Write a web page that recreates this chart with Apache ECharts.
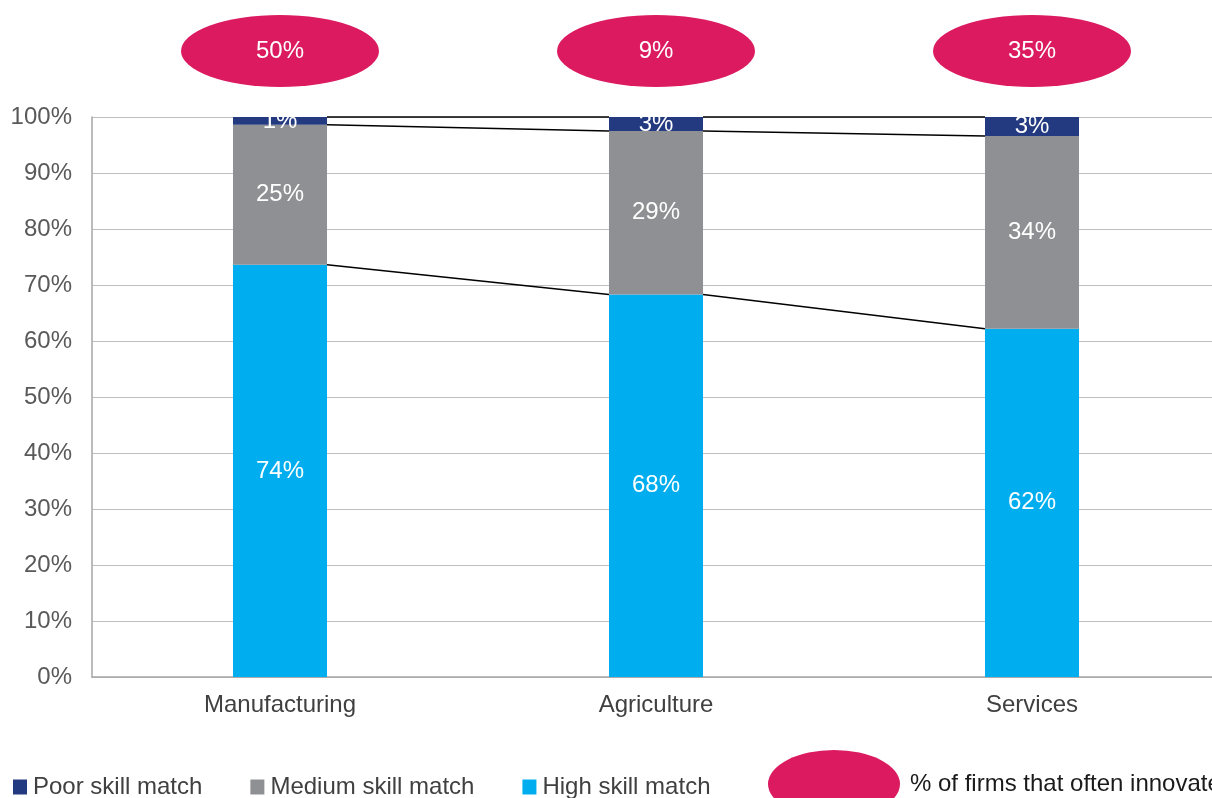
<!DOCTYPE html>
<html>
<head>
<meta charset="utf-8">
<script src="https://cdn.jsdelivr.net/npm/echarts@6/dist/echarts.min.js"></script>
<style>
  html, body { margin: 0; padding: 0; background: #fff; overflow: hidden; }
  #chart { width: 1230px; height: 798px; }
</style>
</head>
<body>
<div id="chart"></div>
<script>
// data
const categories = ['Manufacturing', 'Agriculture', 'Services'];
const highSkill = [73.6, 68.3, 62.2];
const mediumSkill = [25.0, 29.2, 34.4];
const poorSkill = [1.4, 2.5, 3.4];
const innovate = [50, 9, 35];
const yTicks = [0, 10, 20, 30, 40, 50, 60, 70, 80, 90, 100];

const FONT = 'Liberation Sans, Arial, sans-serif';
const ELLIPSE = 'path://M0,50 A50,50 0 1,1 100,50 A50,50 0 1,1 0,50 Z';
const BAR_SHARE = 0.25; // bar width as part of the category band

// cumulative tops for the series lines between bars
const levels = [[], [], []];
categories.forEach((c, i) => {
  levels[0].push(highSkill[i]);
  levels[1].push(highSkill[i] + mediumSkill[i]);
  levels[2].push(highSkill[i] + mediumSkill[i] + poorSkill[i]);
});
const lineData = [];
levels.forEach((lv) => {
  for (let i = 0; i < lv.length - 1; i++) {
    lineData.push([i, lv[i], lv[i + 1]]);
  }
});

const chart = echarts.init(document.getElementById('chart'));

function barLabel() {
  return {
    show: true,
    position: 'inside',
    color: '#fff',
    fontFamily: FONT,
    fontSize: 24,
    formatter: (p) => Math.round(p.value) + '%'
  };
}

const option = {
  animation: false,
  textStyle: { fontFamily: FONT },
  grid: [
    { left: 92, top: 117, width: 1128, height: 560 },
    { left: 92, top: 15, width: 1128, height: 72 }
  ],
  legend: [
    {
      data: ['Poor skill match', 'Medium skill match', 'High skill match'],
      left: 8,
      top: 770,
      itemWidth: 14,
      itemHeight: 15,
      itemGap: 48,
      icon: 'rect',
      textStyle: { fontSize: 24, color: '#404040', fontFamily: FONT, padding: [0, 0, 0, 1] }
    },
    {
      data: [{ name: '% of firms that often innovate', icon: ELLIPSE }],
      left: 763,
      top: 745,
      itemWidth: 132,
      itemHeight: 68,
      symbolKeepAspect: false,
      textStyle: { fontSize: 24, color: '#1a1a1a', fontFamily: FONT, padding: [0, 0, 0, 5] }
    }
  ],
  xAxis: [
    {
      type: 'category',
      data: categories,
      gridIndex: 0,
      axisTick: { show: false },
      axisLine: { lineStyle: { color: '#a6a6a6', width: 1.5 } },
      axisLabel: { fontSize: 24, color: '#404040', margin: 16, fontFamily: FONT }
    },
    {
      type: 'category',
      data: categories,
      gridIndex: 1,
      show: false
    }
  ],
  yAxis: [
    {
      type: 'value',
      gridIndex: 0,
      min: yTicks[0],
      max: yTicks[yTicks.length - 1],
      interval: 10,
      axisLine: { show: true, lineStyle: { color: '#a6a6a6', width: 1.5 } },
      axisTick: { show: false },
      axisLabel: { fontSize: 24, color: '#595959', margin: 20, fontFamily: FONT, formatter: '{value}%' },
      splitLine: { lineStyle: { color: '#bfbfbf', width: 1 } }
    },
    {
      type: 'value',
      gridIndex: 1,
      min: 0,
      max: 1,
      show: false
    }
  ],
  series: [
    {
      name: 'High skill match',
      type: 'bar',
      stack: 'skill',
      barWidth: (BAR_SHARE * 100) + '%',
      itemStyle: { color: '#00aeef' },
      label: barLabel(),
      data: highSkill
    },
    {
      name: 'Medium skill match',
      type: 'bar',
      stack: 'skill',
      itemStyle: { color: '#8f9093' },
      label: barLabel(),
      data: mediumSkill
    },
    {
      name: 'Poor skill match',
      type: 'bar',
      stack: 'skill',
      itemStyle: { color: '#243a80' },
      label: barLabel(),
      data: poorSkill
    },
    {
      name: 'series lines',
      type: 'custom',
      xAxisIndex: 0,
      yAxisIndex: 0,
      z: 5,
      silent: true,
      data: lineData,
      renderItem: (params, api) => {
        const i = api.value(0);
        const p0 = api.coord([i, api.value(1)]);
        const p1 = api.coord([i + 1, api.value(2)]);
        const half = api.size([1, 0])[0] * BAR_SHARE / 2;
        return {
          type: 'line',
          shape: { x1: p0[0] + half, y1: p0[1], x2: p1[0] - half, y2: p1[1] },
          style: { stroke: '#000', lineWidth: 1.5 }
        };
      }
    },
    {
      name: '% of firms that often innovate',
      type: 'scatter',
      xAxisIndex: 1,
      yAxisIndex: 1,
      symbol: ELLIPSE,
      symbolSize: [198, 72],
      itemStyle: { color: '#db1a60', opacity: 1 },
      label: {
        show: true,
        position: 'inside',
        color: '#fff',
        fontSize: 24,
        fontFamily: FONT
      },
      data: innovate.map((v, i) => ({ value: [i, 0.5], label: { formatter: v + '%' } }))
    }
  ]
};

chart.setOption(option);
</script>
</body>
</html>
